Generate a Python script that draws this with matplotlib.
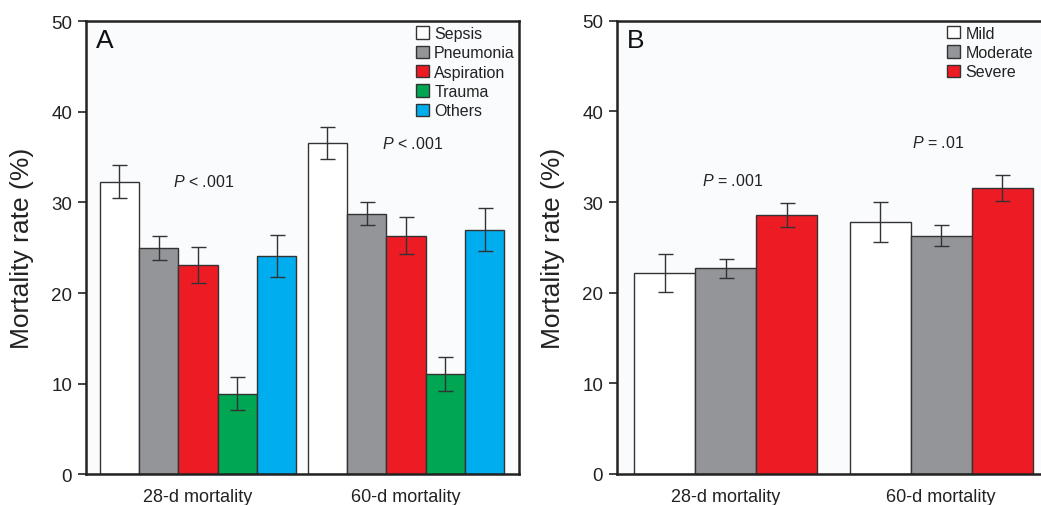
import numpy as np
import matplotlib
matplotlib.use("Agg")
import matplotlib.pyplot as plt
from matplotlib.patches import Patch

plt.rcParams["font.family"] = ["Liberation Sans", "DejaVu Sans"]
plt.rcParams["mathtext.fontset"] = "custom"
plt.rcParams["mathtext.it"] = "Liberation Sans:italic"
plt.rcParams["mathtext.rm"] = "Liberation Sans"

# data
groups = ["28-d mortality", "60-d mortality"]

causes = ["Sepsis", "Pneumonia", "Aspiration", "Trauma", "Others"]
cause_vals = [
    [32.3, 36.55],   # Sepsis
    [25.0, 28.75],   # Pneumonia
    [23.1, 26.35],   # Aspiration
    [8.9, 11.1],     # Trauma
    [24.1, 27.0],    # Others
]
cause_err = [
    [1.85, 1.8],
    [1.3, 1.25],
    [2.0, 2.0],
    [1.8, 1.85],
    [2.3, 2.35],
]
cause_p = ["< .001", "< .001"]

severity = ["Mild", "Moderate", "Severe"]
sev_vals = [
    [22.2, 27.8],
    [22.7, 26.3],
    [28.55, 31.55],
]
sev_err = [
    [2.1, 2.2],
    [1.07, 1.2],
    [1.35, 1.43],
]
sev_p = ["= .001", "= .01"]

cause_colors = ["#ffffff", "#939598", "#ed1c24", "#00a651", "#00aeef"]
sev_colors = ["#ffffff", "#939598", "#ed1c24"]

edge = "#333333"
fig = plt.figure(figsize=(10.41, 5.06), dpi=100)
axA = fig.add_axes([0.0826, 0.0603, 0.416, 0.8962])
axB = fig.add_axes([0.5927, 0.0613, 0.416, 0.8957])


def draw_panel(ax, names, vals, errs, colors, width, xlim, pvals, p_pos, letter, legend_x):
    x = np.arange(len(groups))
    n = len(names)
    handles = []
    for i in range(n):
        off = (i - (n - 1) / 2) * width
        ax.bar(x + off, vals[i], width, yerr=errs[i], color=colors[i],
               edgecolor=edge, linewidth=1.0, capsize=5.4,
               error_kw=dict(ecolor="#333333", elinewidth=1.0, capthick=1.0))
        handles.append(Patch(facecolor=colors[i], edgecolor=edge, linewidth=1.0, label=names[i]))
    ax.set_xlim(*xlim)
    ax.set_ylim(0, 50)
    ax.set_yticks([0, 10, 20, 30, 40, 50])
    ax.set_xticks(x)
    ax.set_xticklabels(groups)
    ax.tick_params(axis="x", length=0, pad=10, labelsize=13, colors="#222222")
    ax.tick_params(axis="y", length=6, width=1.2, pad=4, labelsize=13.5, colors="#222222")
    ax.set_facecolor("#fafbfd")
    for s in ax.spines.values():
        s.set_linewidth(1.8)
        s.set_color("#222222")
    ax.set_ylabel("Mortality rate (%)", fontsize=19, color="#222222")
    ax.yaxis.set_label_coords(-0.12, 0.5)
    for (px, py), p in zip(p_pos, pvals):
        ax.text(px, py, "$\\it{P}$ " + p, fontsize=11.5, ha="left", va="center", color="#222222")
    ax.text(0.022, 0.985, letter, transform=ax.transAxes, fontsize=19,
            ha="left", va="top", color="#111111")
    leg = ax.legend(handles=handles, loc="upper left", bbox_to_anchor=(legend_x, 1.003),
                    frameon=False, fontsize=11.5, handlelength=0.8, handleheight=0.8,
                    handletextpad=0.35, labelspacing=0.27, borderaxespad=0.0)
    for t in leg.get_texts():
        t.set_color("#222222")


draw_panel(axA, causes, cause_vals, cause_err, cause_colors, 0.189, (-0.538, 1.543),
           cause_p, [(-0.12, 32.4), (0.885, 36.6)], "A", 0.747)
draw_panel(axB, severity, sev_vals, sev_err, sev_colors, 0.283, (-0.505, 1.506),
           sev_p, [(-0.11, 32.4), (0.865, 36.6)], "B", 0.748)

fig.savefig("out.png", dpi=100)
